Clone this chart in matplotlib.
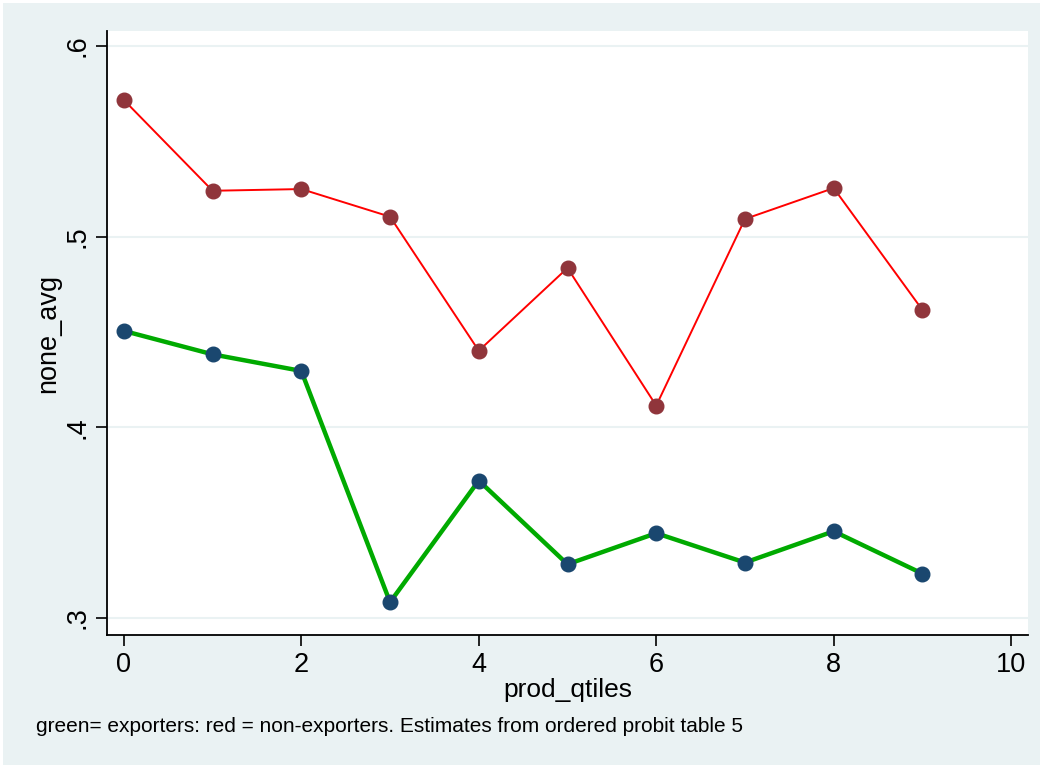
import matplotlib
matplotlib.use('Agg')
import matplotlib.pyplot as plt
from matplotlib.patches import Rectangle

# dane
prod_qtiles = [0, 1, 2, 3, 4, 5, 6, 7, 8, 9]
red_nonexp = [0.5717, 0.5241, 0.5250, 0.5105, 0.4402, 0.4836, 0.4114, 0.5093, 0.5255, 0.4616]
green_exp = [0.4506, 0.4383, 0.4296, 0.3083, 0.3721, 0.3282, 0.3445, 0.3291, 0.3455, 0.3233]
x_ticks = [0, 2, 4, 6, 8, 10]
y_ticks = [0.3, 0.4, 0.5, 0.6]
y_ticklabels = ['.3', '.4', '.5', '.6']
note = 'green= exporters: red = non-exporters. Estimates from ordered probit table 5'

plt.rcParams['font.family'] = ['Liberation Sans', 'DejaVu Sans']

bg = '#eaf2f3'
fig = plt.figure(figsize=(10.45, 7.7), dpi=100, facecolor='white')
fig.patches.append(Rectangle((3 / 1045, 5 / 770), 1037 / 1045, 762 / 770,
                             transform=fig.transFigure, facecolor=bg,
                             edgecolor='none', zorder=-10))

ax = fig.add_axes([107 / 1045, 135 / 770, 921 / 1045, 604 / 770])
ax.set_facecolor('white')

ax.plot(prod_qtiles, red_nonexp, color='#ff0000', lw=1.4, zorder=3,
        marker='o', ms=10.5, mfc='#90353b', mec='#90353b')
ax.plot(prod_qtiles, green_exp, color='#00aa00', lw=3.2, zorder=3,
        marker='o', ms=10.5, mfc='#1a476f', mec='#1a476f')

ax.set_xlim(-0.19, 10.19)
ax.set_ylim(0.2911, 0.6079)
ax.set_xticks(x_ticks)
ax.set_yticks(y_ticks)
ax.set_yticklabels(y_ticklabels, rotation=90, va='center')

ax.grid(axis='y', color=bg, lw=1.5, zorder=0)
ax.grid(axis='x', visible=False)

for s in ['top', 'right']:
    ax.spines[s].set_visible(False)
for s in ['left', 'bottom']:
    ax.spines[s].set_linewidth(1.3)
    ax.spines[s].set_color('black')

ax.tick_params(axis='both', length=8, width=1.2, labelsize=19.5, pad=4)

ax.set_xlabel('prod_qtiles', fontsize=19, labelpad=0)
ax.set_ylabel('none_avg', fontsize=19.5, labelpad=2)

fig.text(36 / 1045, 1 - 727 / 770, note, fontsize=15, va='center', ha='left')

fig.savefig('out.png', dpi=100, facecolor=fig.get_facecolor())
